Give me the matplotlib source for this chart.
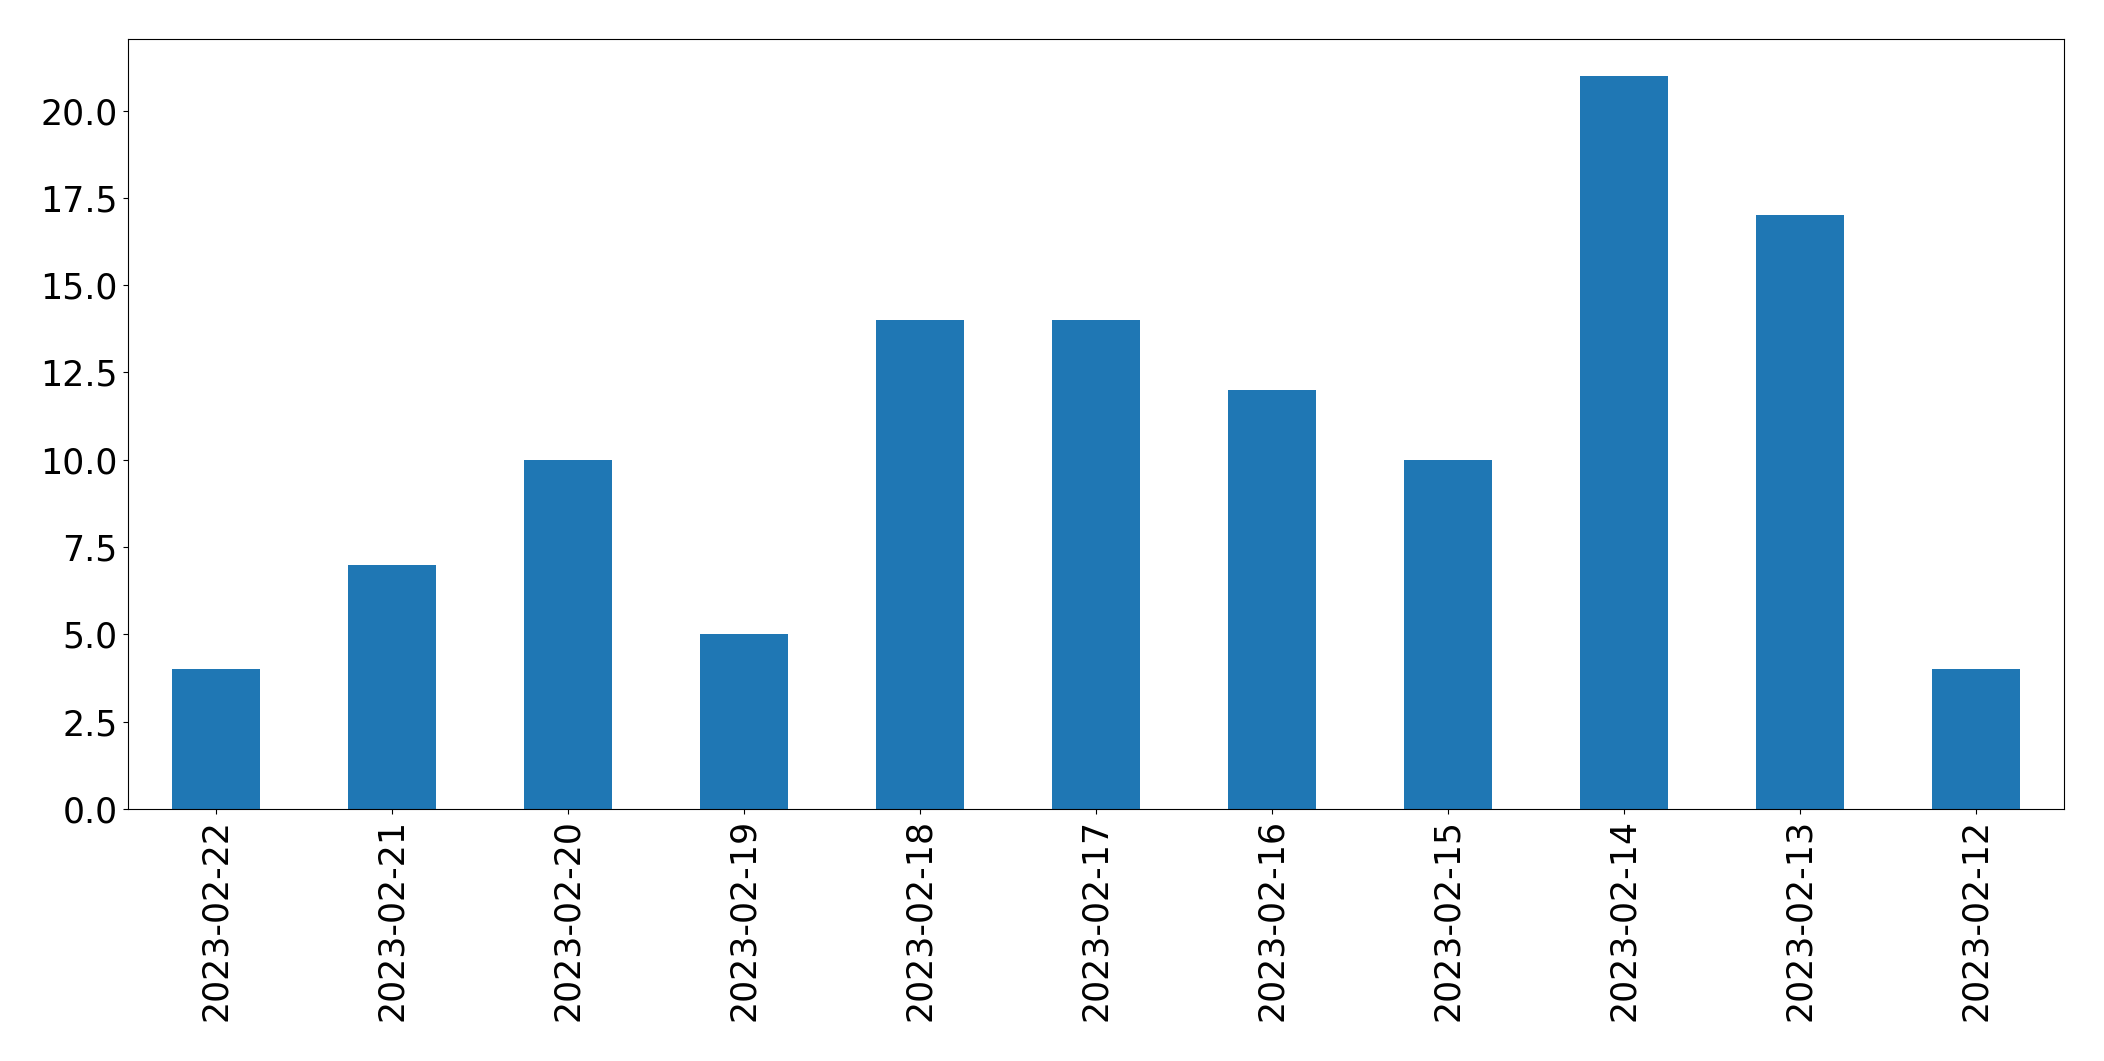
import matplotlib
matplotlib.use('Agg')
from matplotlib import pyplot as plt
import pandas as pd

# Daily counts, newest first (as in the reference)
dates = ['2023-02-22', '2023-02-21', '2023-02-20', '2023-02-19', '2023-02-18',
         '2023-02-17', '2023-02-16', '2023-02-15', '2023-02-14', '2023-02-13',
         '2023-02-12']
counts = [4, 7, 10, 5, 14, 14, 12, 10, 21, 17, 4]

series = pd.Series(counts, index=dates)

fig = plt.figure(figsize=(21.04, 10.61), dpi=100)
ax = fig.add_axes([0.0606, 0.2375, 0.9202, 0.7258])
series.plot(kind='bar', ax=ax, color='#1f77b4')

ax.tick_params(axis='both', labelsize=25)
plt.setp(ax.get_xticklabels(), rotation=90)

fig.savefig('out.png', dpi=100)
